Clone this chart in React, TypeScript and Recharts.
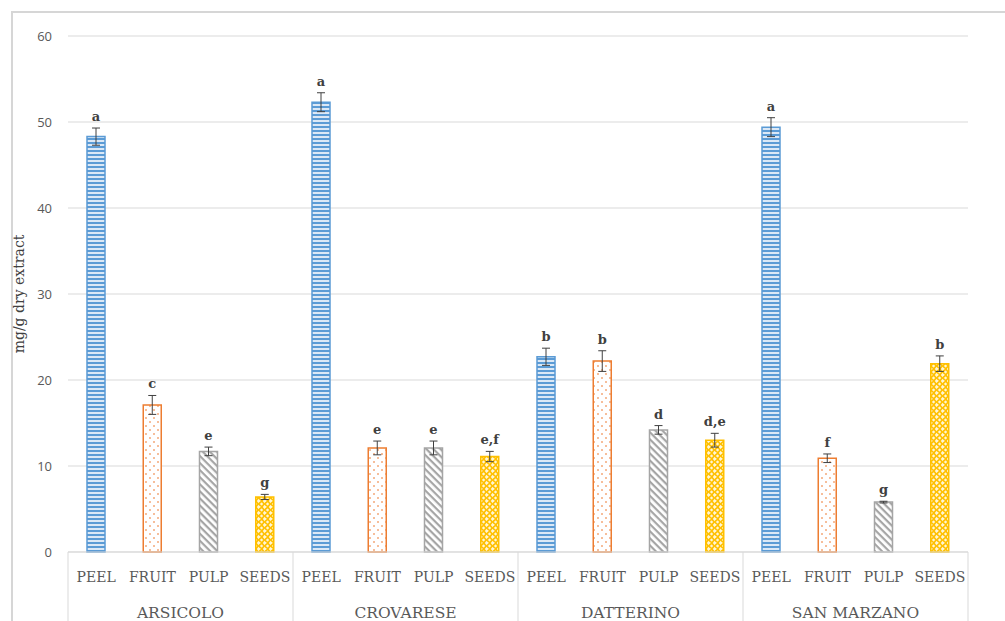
import { Bar, BarChart, CartesianGrid, Cell, ErrorBar, LabelList, XAxis, YAxis } from 'recharts';

const parts = ['PEEL', 'FRUIT', 'PULP', 'SEEDS'];
const cultivars = ['ARSICOLO', 'CROVARESE', 'DATTERINO', 'SAN MARZANO'];

// mg/g dry extract, one row per cultivar in the order of `parts`
const means = [
  [48.3, 17.1, 11.7, 6.4],
  [52.3, 12.1, 12.1, 11.1],
  [22.7, 22.2, 14.2, 13.0],
  [49.4, 10.9, 5.8, 21.9],
];
const stdDevs = [
  [1.0, 1.1, 0.5, 0.3],
  [1.1, 0.8, 0.8, 0.6],
  [1.0, 1.2, 0.5, 0.8],
  [1.1, 0.5, 0.1, 0.9],
];
const letters = [
  ['a', 'c', 'e', 'g'],
  ['a', 'e', 'e', 'e,f'],
  ['b', 'b', 'd', 'd,e'],
  ['a', 'f', 'g', 'b'],
];
const yTicks = [0, 10, 20, 30, 40, 50, 60];

const rows = cultivars.flatMap((cultivar, ci) =>
  parts.map((part, pi) => ({
    cultivar,
    part,
    value: means[ci][pi],
    err: stdDevs[ci][pi],
    letter: letters[ci][pi],
  })),
);

const W = 1005;
const H = 621;
const MARGIN = { top: 36, right: 37, left: 8, bottom: 0 };
const Y_AXIS_W = 60;
const PART_AXIS_H = 30;
const GROUP_AXIS_H = 39;
const PLOT_LEFT = MARGIN.left + Y_AXIS_W;
const PLOT_RIGHT = W - MARGIN.right;
const PLOT_BOTTOM = H - PART_AXIS_H - GROUP_AXIS_H;
const PLOT_H = PLOT_BOTTOM - MARGIN.top;
const GROUP_W = (PLOT_RIGHT - PLOT_LEFT) / cultivars.length;

const partStyle: Record<string, { fill: string; stroke: string }> = {
  PEEL: { fill: 'url(#peelPattern)', stroke: '#5b9bd5' },
  FRUIT: { fill: 'url(#fruitPattern)', stroke: '#ed7d31' },
  PULP: { fill: 'url(#pulpPattern)', stroke: '#a5a5a5' },
  SEEDS: { fill: 'url(#seedsPattern)', stroke: '#ffc000' },
};

const serif = '"DejaVu Serif", "Liberation Serif", serif';
const GRID = '#d9d9d9';

function PartTick({ x, y, payload }: any) {
  return (
    <text x={x} y={y + 30} textAnchor="middle" fontFamily={serif} fontSize={14} fill="#595959">
      {payload.value}
    </text>
  );
}

function GroupTick({ x, y, payload, index }: any) {
  const half = GROUP_W / 2;
  return (
    <g>
      <line x1={x - half} x2={x - half} y1={PLOT_BOTTOM} y2={H} stroke={GRID} strokeWidth={1} />
      {index === cultivars.length - 1 && (
        <line x1={x + half} x2={x + half} y1={PLOT_BOTTOM} y2={H} stroke={GRID} strokeWidth={1} />
      )}
      <text x={x} y={y + 36} textAnchor="middle" fontFamily={serif} fontSize={15.5} fill="#595959">
        {payload.value}
      </text>
    </g>
  );
}

function LetterLabel({ x, y, width, index }: any) {
  const row = rows[index];
  const errPx = (row.err * PLOT_H) / 60;
  return (
    <text
      x={x + width / 2}
      y={y - errPx - 7}
      textAnchor="middle"
      fontFamily={serif}
      fontWeight="bold"
      fontSize={13}
      fill="#404040"
    >
      {row.letter}
    </text>
  );
}

export default function App() {
  return (
    <div style={{ position: 'absolute', left: 0, top: 0, width: W, height: H, background: '#fff' }}>
      <div
        style={{
          position: 'absolute',
          left: 11,
          top: 11,
          width: W - 11,
          height: H - 11,
          borderLeft: '2px solid #d6d6d6',
          borderTop: '2px solid #d6d6d6',
        }}
      />
      <BarChart width={W} height={H} data={rows} margin={MARGIN} style={{ position: 'absolute', left: 0, top: 0 }}>
        <defs>
          <pattern id="peelPattern" width={4} height={4} patternUnits="userSpaceOnUse">
            <rect width={4} height={4} fill="#dbe8f6" />
            <rect y={2} width={4} height={2} fill="#5b9bd5" />
          </pattern>
          <pattern id="fruitPattern" width={8} height={8} patternUnits="userSpaceOnUse">
            <rect width={8} height={8} fill="#fff" />
            <circle cx={2} cy={2} r={1} fill="#f4a97a" />
            <circle cx={6} cy={6} r={1} fill="#f4a97a" />
          </pattern>
          <pattern id="pulpPattern" width={5} height={5} patternUnits="userSpaceOnUse" patternTransform="rotate(45)">
            <rect width={5} height={5} fill="#fff" />
            <rect y={0} width={5} height={2.2} fill="#a5a5a5" />
          </pattern>
          <pattern id="seedsPattern" width={6} height={6} patternUnits="userSpaceOnUse">
            <rect width={6} height={6} fill="#fff6d5" />
            <path d="M0 0 Q3 1 6 6 M6 0 Q3 5 0 6" fill="none" stroke="#ffc000" strokeWidth={1.6} />
          </pattern>
        </defs>
        <CartesianGrid vertical={false} stroke={GRID} />
        <XAxis
          dataKey="part"
          height={PART_AXIS_H}
          tickSize={0}
          tickMargin={0}
          stroke={GRID}
          interval={0}
          tick={<PartTick />}
        />
        <XAxis
          xAxisId="group"
          dataKey="cultivar"
          allowDuplicatedCategory={false}
          height={GROUP_AXIS_H}
          tickSize={0}
          tickMargin={0}
          axisLine={false}
          interval={0}
          tick={<GroupTick />}
        />
        <YAxis
          width={Y_AXIS_W}
          domain={[0, 60]}
          ticks={yTicks}
          axisLine={false}
          tickLine={false}
          tickMargin={10}
          tick={{ fill: '#595959', fontSize: 13, fontFamily: '"Open Sans", sans-serif' }}
          label={{
            content: ({ viewBox }: any) => (
              <text
                x={viewBox.x + 16}
                y={viewBox.y + viewBox.height / 2}
                transform={`rotate(-90, ${viewBox.x + 16}, ${viewBox.y + viewBox.height / 2})`}
                textAnchor="middle"
                fontFamily={serif}
                fontSize={14}
                fill="#404040"
              >
                mg/g dry extract
              </text>
            ),
          }}
        />
        <Bar dataKey="value" barSize={18} isAnimationActive={false}>
          {rows.map((row, i) => (
            <Cell key={i} fill={partStyle[row.part].fill} stroke={partStyle[row.part].stroke} strokeWidth={1.5} />
          ))}
          <ErrorBar dataKey="err" width={4} stroke="#404040" strokeWidth={1} />
          <LabelList dataKey="letter" content={<LetterLabel />} />
        </Bar>
      </BarChart>
    </div>
  );
}
